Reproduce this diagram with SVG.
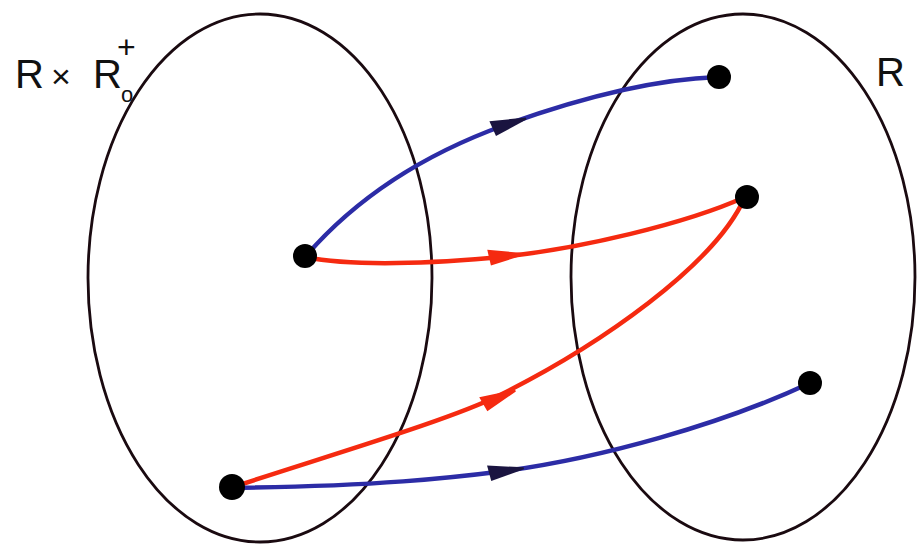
<svg xmlns="http://www.w3.org/2000/svg" width="922" height="545" viewBox="0 0 922 545">
<style>
.set{fill:none;stroke:#1a0a10;stroke-width:2.8}
.blue{fill:none;stroke:#2c2ca6;stroke-width:4.5;stroke-linecap:round}
.red{fill:none;stroke:#f52a10;stroke-width:4.5;stroke-linecap:round}
.ab{fill:#1a1440}
.ar{fill:#f52a10}
.dot{fill:#000}
.lbl{font-family:"Liberation Sans",Arial,sans-serif;fill:#111}
</style>
<defs>
<path id="ah" d="M-17,-8 Q-16,0 -15,8 L19,1 L19,-1 Z"/>
</defs>
<rect width="922" height="545" fill="#fff"/>
<g id="setA">
<ellipse class="set" cx="260" cy="278" rx="172" ry="264"/>
<text class="lbl" y="88" font-size="40"><tspan x="15">R</tspan><tspan x="51" font-size="34">×</tspan><tspan x="93">R</tspan><tspan x="121" dy="14" font-size="22">o</tspan><tspan x="117" dy="-44" font-size="32">+</tspan></text>
</g>
<g id="setB">
<ellipse class="set" cx="743" cy="277" rx="172" ry="263"/>
<text class="lbl" x="876" y="86" font-size="40">R</text>
</g>
<g id="connectors">
<path class="blue" d="M305,257 Q380,170 505,125 Q630,80 718,77"/>
<path class="red" d="M305,257 C350,266 420,264 490,258 C580,250 690,222 745,197"/>
<path class="red" d="M230,488 C330,455 450,420 500,395 C600,345 715,265 745,197"/>
<path class="blue" d="M230,488 C380,486 450,478 505,471 C600,458 720,425 810,383"/>
<use href="#ah" class="ab" transform="translate(508,124) rotate(-17)"/>
<use href="#ah" class="ar" transform="translate(505,256) rotate(-6)"/>
<use href="#ah" class="ar" transform="translate(498,398) rotate(-23)"/>
<use href="#ah" class="ab" transform="translate(505,471) rotate(-8)"/>
</g>
<g id="points">
<circle class="dot" cx="305" cy="256" r="12"/>
<circle class="dot" cx="719" cy="77" r="12"/>
<circle class="dot" cx="747" cy="197" r="12"/>
<circle class="dot" cx="810" cy="383" r="12"/>
<circle class="dot" cx="232" cy="487" r="13"/>
</g>
</svg>
